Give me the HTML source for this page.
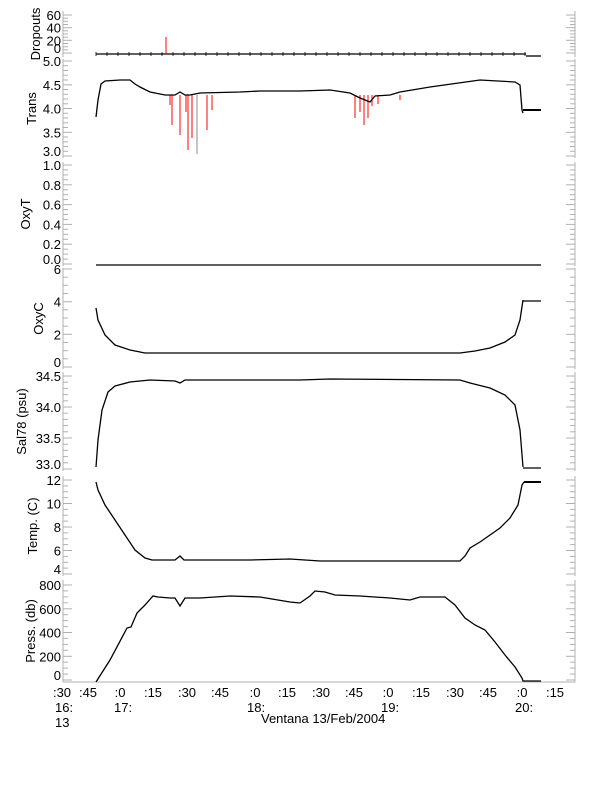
<!DOCTYPE html>
<html><head><meta charset="utf-8"><style>
body{margin:0;background:#fff}
svg{display:block;font-family:"Liberation Sans",sans-serif}
</style></head><body>
<svg id="s" width="612" height="785" viewBox="0 0 612 785" xmlns="http://www.w3.org/2000/svg"></svg>
<script>
const s=document.getElementById('s');let h='';
const panels=[
 {lab:'Dropouts',v0:0,y0:53,v1:60,y1:15,maj:20,min:5,top:11,bot:57,d:0,lx:40},
 {lab:'Trans',v0:3,y0:156,v1:5,y1:61,maj:0.5,min:0.1,top:59,bot:158,d:1,lx:36},
 {lab:'OxyT',v0:0,y0:264,v1:1,y1:165,maj:0.2,min:0.05,top:162,bot:266,d:1,lx:30},
 {lab:'OxyC',v0:0,y0:367,v1:6,y1:269,maj:2,min:0.5,top:268,bot:369,d:0,lx:43},
 {lab:'Sal78 (psu)',v0:33,y0:469,v1:34.5,y1:376,maj:0.5,min:0.1,top:372,bot:471,d:1,lx:26},
 {lab:'Temp. (C)',v0:4,y0:574,v1:12,y1:480,maj:2,min:0.5,top:476,bot:576,d:0,lx:37},
 {lab:'Press. (db)',v0:0,y0:680,v1:800,y1:585,maj:200,min:50,top:580,bot:682,d:0,lx:35}
];
const G='#b0b0b0';
panels.forEach(p=>{
 h+=`<line x1="63" y1="${p.top}" x2="63" y2="${p.bot}" stroke="${G}"/>`;
 h+=`<line x1="575" y1="${p.top}" x2="575" y2="${p.bot}" stroke="${G}"/>`;
 const sc=(p.y1-p.y0)/(p.v1-p.v0);
 const n=Math.round((p.v1-p.v0)/p.min);
 for(let i=0;i<=n;i++){const v=p.v0+i*p.min;const y=(p.y0+(v-p.v0)*sc);
  const isM=Math.abs(((v-p.v0)/p.maj)-Math.round((v-p.v0)/p.maj))<1e-6;const L=isM?9:5;
  h+=`<line x1="63" y1="${y.toFixed(1)}" x2="${63+L}" y2="${y.toFixed(1)}" stroke="${G}"/><line x1="575" y1="${y.toFixed(1)}" x2="${575-L}" y2="${y.toFixed(1)}" stroke="${G}"/>`;
  if(isM){const by=i==0?y:y+5;h+=`<text x="61" y="${by.toFixed(1)}" font-size="13" text-anchor="end">${v.toFixed(p.d)}</text>`;}}
 const cy=(p.top+p.bot)/2;
 h+=`<text x="0" y="0" font-size="13" text-anchor="middle" transform="translate(${p.lx},${cy}) rotate(-90)">${p.lab}</text>`;
});
h+=`<line x1="63" y1="682" x2="575" y2="682" stroke="${G}"/>`;
const tl=[[':30',62],[':45',88],[':0',120],[':15',153],[':30',187],[':45',220],[':0',255],[':15',287],[':30',321],[':45',354],[':0',388],[':15',421],[':30',455],[':45',488],[':0',522],[':15',555]];
tl.forEach(t=>{h+=`<text x="${t[1]}" y="697" font-size="13" text-anchor="middle">${t[0]}</text>`;});
h+=`<text x="55" y="712" font-size="13">16:</text><text x="55" y="727" font-size="13">13</text>`;
h+=`<text x="114" y="712" font-size="13">17:</text><text x="247" y="712" font-size="13">18:</text><text x="381" y="712" font-size="13">19:</text><text x="515" y="712" font-size="13">20:</text>`;
h+=`<text x="261" y="723" font-size="13">Ventana 13/Feb/2004</text>`;
function pl(pts,c,w){return `<polyline fill="none" stroke="${c}" stroke-width="${w||1.3}" points="${pts.map(p=>p.join(',')).join(' ')}"/>`;}
h+=pl([[96,54],[526,54]],'#000');h+=pl([[526,56],[541,56]],'#000');
for(let x=96;x<=526;x+=11)h+=`<line x1="${x}" y1="52" x2="${x}" y2="56" stroke="#000" stroke-width="0.8"/>`;
h+=`<line x1="166" y1="54" x2="166" y2="37" stroke="red"/>`;
[[172,125],[180,135],[186,112],[188,150],[192,138],[207,130],[212,110],[170,105],[355,118],[360,112],[364,125],[368,118],[372,106],[378,104],[400,100]].forEach(s2=>{h+=`<line x1="${s2[0]}" y1="95" x2="${s2[0]}" y2="${s2[1]}" stroke="red"/>`;});
h+=`<line x1="197" y1="95" x2="197" y2="154" stroke="#888"/>`;
h+=pl([[96,117],[98,100],[101,84],[105,81],[120,80],[130,80],[135,84],[140,87],[150,92],[165,95],[175,95],[180,92],[185,95],[190,95],[200,93],[240,92],[260,91],[300,91],[330,90],[350,93],[360,98],[370,102],[375,96],[390,95],[400,92],[430,87],[480,80],[515,82],[520,85],[522,110],[523,113]],'#000');
h+=pl([[523,110],[541,110]],'#000',2);
h+=pl([[96,265],[541,265]],'#000');
h+=pl([[96,308],[98,320],[105,335],[115,345],[130,350],[145,353],[460,353],[475,351],[490,348],[505,342],[515,335],[520,320],[523,300]],'#000');
h+=pl([[523,301],[541,301]],'#000');
h+=pl([[96,467],[98,440],[102,410],[108,392],[115,386],[130,382],[150,380],[175,381],[180,383],[185,380],[300,380],[330,379],[460,380],[470,383],[490,388],[505,395],[515,405],[520,430],[523,467]],'#000');
h+=pl([[523,468],[541,468]],'#000');
h+=pl([[96,482],[98,490],[105,505],[115,520],[125,535],[135,550],[145,558],[152,560],[175,560],[180,556],[184,560],[250,560],[290,559],[320,561],[380,561],[460,561],[465,556],[470,548],[480,542],[490,535],[500,528],[510,518],[518,505],[522,485],[524,482]],'#000');
h+=pl([[524,482],[541,482]],'#000',2);
h+=pl([[96,682],[110,660],[127,628],[131,627],[137,613],[145,605],[153,596],[158,597],[170,598],[175,598],[180,606],[185,598],[200,598],[230,596],[260,597],[290,602],[300,603],[310,596],[315,591],[325,592],[335,595],[360,596],[390,598],[410,600],[420,597],[445,597],[455,605],[465,618],[475,625],[485,630],[495,642],[505,655],[515,667],[522,678],[523,681],[541,681]],'#000');
s.innerHTML=h;
</script>
</body></html>
